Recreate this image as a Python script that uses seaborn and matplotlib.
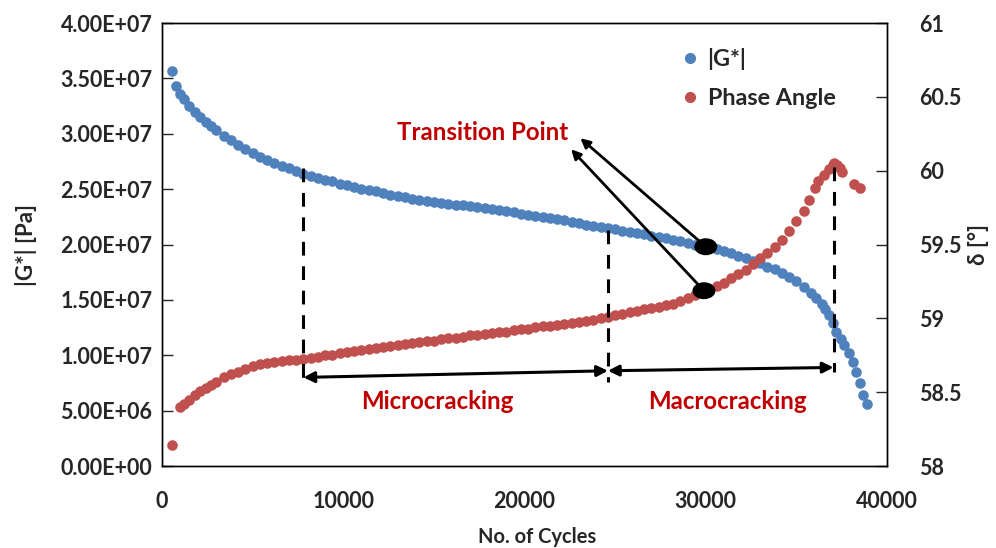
import matplotlib
matplotlib.use("Agg")
import matplotlib.pyplot as plt
import matplotlib.ticker as ticker
from matplotlib.lines import Line2D
from matplotlib.patches import Ellipse
import seaborn as sns

sns.set_style("white", {"xtick.direction": "in", "ytick.direction": "in",
                        "axes.edgecolor": "black"})
plt.rcParams['font.family'] = ['Lato', 'DejaVu Sans']
plt.rcParams['font.weight'] = 'bold'
plt.rcParams['font.size'] = 15

BLUE = '#4F81BD'
RED = '#C0504D'
TEXT_RED = '#C00000'

# |G*| readings (cycles, Pa / 1e6)
g_cycles = [570, 790, 1000, 1200, 1500, 1800, 2100, 2400, 2700, 3000, 3400, 3800,
            4200, 4600, 5000, 5400, 5800, 6200, 6600, 7000, 7400, 7800, 8200, 8600,
            9000, 9400, 9800, 10200, 10600, 11000, 11400, 11800, 12200, 12600, 13000,
            13400, 13800, 14200, 14600, 15000, 15400, 15800, 16200, 16600, 17000,
            17400, 17800, 18200, 18600, 19000, 19400, 19800, 20200, 20600, 21000,
            21400, 21800, 22200, 22600, 23000, 23400, 23800, 24200, 24600, 25000,
            25400, 25800, 26200, 26600, 27000, 27400, 27800, 28200, 28600, 29000,
            29400, 29800, 30200, 30600, 31000, 31400, 31800, 32200, 32600, 33000,
            33400, 33800, 34200, 34600, 35000, 35400, 35800, 36100, 36400, 36600,
            36800, 37000, 37200, 37450, 37650, 37900, 38100, 38300, 38500, 38700, 38900]
g_modulus = [35.7, 34.3, 33.6, 33.1, 32.5, 32.0, 31.5, 31.1, 30.7, 30.3, 29.8, 29.4,
             29.0, 28.6, 28.25, 27.9, 27.6, 27.35, 27.1, 26.9, 26.6, 26.4, 26.2, 26.0,
             25.85, 25.7, 25.5, 25.35, 25.2, 25.05, 24.9, 24.8, 24.65, 24.5, 24.35,
             24.25, 24.15, 24.05, 23.95, 23.85, 23.75, 23.7, 23.6, 23.55, 23.45,
             23.4, 23.3, 23.2, 23.1, 23.0, 22.9, 22.8, 22.7, 22.6, 22.5,
             22.4, 22.3, 22.2, 22.05, 21.95, 21.8, 21.7, 21.6, 21.5, 21.4,
             21.25, 21.15, 21.05, 20.95, 20.8, 20.7, 20.55, 20.45, 20.3, 20.15,
             20.0, 19.9, 19.75, 19.6, 19.4, 19.2, 19.0, 18.8, 18.55, 18.3,
             18.0, 17.75, 17.45, 17.1, 16.7, 16.2, 15.65, 15.2, 14.65, 14.2,
             13.6, 12.9, 12.1, 11.5, 10.9, 10.2, 9.4, 8.5, 7.5, 6.4, 5.6]

# phase angle readings (cycles, degrees)
pa_cycles = [570, 980, 1200, 1500, 1800, 2100, 2400, 2700, 3000, 3400, 3800, 4200,
             4600, 5000, 5400, 5800, 6200, 6600, 7000, 7400, 7800, 8200, 8600, 9000,
             9400, 9800, 10200, 10600, 11000, 11400, 11800, 12200, 12600, 13000,
             13400, 13800, 14200, 14600, 15000, 15400, 15800, 16200, 16600, 17000,
             17400, 17800, 18200, 18600, 19000, 19400, 19800, 20200, 20600, 21000,
             21400, 21800, 22200, 22600, 23000, 23400, 23800, 24200, 24600, 25000,
             25400, 25800, 26200, 26600, 27000, 27400, 27800, 28200, 28600, 29000,
             29400, 29800, 30200, 30600, 31000, 31400, 31800, 32200, 32600, 33000,
             33400, 33800, 34200, 34600, 35000, 35400, 35700, 36000, 36200, 36500,
             36800, 37000, 37100, 37250, 37400, 37500, 38200, 38500]
pa_angle = [58.14, 58.40, 58.42, 58.45, 58.48, 58.51, 58.53, 58.55, 58.57, 58.60, 58.62, 58.64,
            58.66, 58.68, 58.69, 58.70, 58.705, 58.71, 58.715, 58.72, 58.725, 58.73, 58.74, 58.75,
            58.755, 58.765, 58.77, 58.78, 58.785, 58.79, 58.80, 58.805, 58.81, 58.82,
            58.825, 58.83, 58.84, 58.845, 58.85, 58.86, 58.865, 58.87, 58.875, 58.885,
            58.89, 58.895, 58.90, 58.905, 58.91, 58.92, 58.925, 58.93, 58.94, 58.945,
            58.95, 58.955, 58.965, 58.97, 58.975, 58.985, 58.99, 59.0, 59.01, 59.02,
            59.03, 59.04, 59.05, 59.06, 59.07, 59.08, 59.09, 59.10, 59.12, 59.14,
            59.16, 59.18, 59.20, 59.22, 59.24, 59.27, 59.30, 59.33, 59.37, 59.41,
            59.44, 59.48, 59.53, 59.59, 59.66, 59.73, 59.80, 59.88, 59.93, 59.97,
            60.01, 60.04, 60.05, 60.04, 60.02, 59.99, 59.91, 59.88]

x_ticks = [0, 10000, 20000, 30000, 40000]
g_ticks = [0, 5e6, 1e7, 1.5e7, 2e7, 2.5e7, 3e7, 3.5e7, 4e7]
pa_ticks = [58, 58.5, 59, 59.5, 60, 60.5, 61]

# annotations (left-axis data units)
split_cycles = [7800, 24600, 37050]
split_top = [26.9e6, 21.3e6, 27.0e6]
split_bottom = [7.9e6, 7.6e6, 8.5e6]
arrow_y = [8.0e6, 8.6e6, 8.9e6]
region_labels = ['Microcracking', 'Macrocracking']
region_label_x = [15200, 31200]
region_label_y = 5.87e6
transition_x = [30000, 29900]
transition_y = [19.8e6, 15.83e6]
transition_head_x = [23080, 22570]
transition_head_y = [29.6e6, 28.6e6]

fig = plt.figure(figsize=(9.96, 5.48), dpi=100)
ax = fig.add_axes([0.1627, 0.1496, 0.7279, 0.8084])
ax2 = ax.twinx()

sns.scatterplot(x=g_cycles, y=[v * 1e6 for v in g_modulus], ax=ax, color=BLUE,
                s=58, linewidth=0, legend=False)
sns.scatterplot(x=pa_cycles, y=pa_angle, ax=ax2, color=RED,
                s=58, linewidth=0, legend=False)

ax.set_xlim(0, 40000)
ax.set_ylim(0, 4e7)
ax2.set_ylim(58, 61)
ax.set_xticks(x_ticks)
ax.set_yticks(g_ticks)
ax2.set_yticks(pa_ticks)
ax.xaxis.set_major_formatter(ticker.FuncFormatter(lambda v, p: f"{v:.0f}"))
ax.yaxis.set_major_formatter(ticker.FuncFormatter(lambda v, p: f"{v:.2E}"))
ax2.yaxis.set_major_formatter(ticker.FuncFormatter(lambda v, p: f"{v:g}"))
ax.tick_params(axis='x', direction='in', length=8, width=1, pad=18, labelsize=15.5)
ax.tick_params(axis='y', direction='in', length=8, width=1, pad=7, labelsize=15.5,
               left=True, right=False)
ax2.tick_params(axis='y', direction='in', length=8, width=1, pad=23, labelsize=15.5,
                right=True, left=False)
for a in (ax, ax2):
    for sp in a.spines.values():
        sp.set_color('black')
        sp.set_linewidth(1)

ax.set_xlabel('No. of Cycles', fontsize=14.5, fontweight='bold')
ax.xaxis.set_label_coords(0.517, -0.138)
ax.set_ylabel('|G*| [Pa]', fontsize=16, fontweight='bold')
ax.yaxis.set_label_coords(-0.172, 0.5)
ax2.set_ylabel('δ [°]', fontsize=16, fontweight='bold', rotation=90)
ax2.yaxis.set_label_coords(1.112, 0.5)

# dashed split lines
for x0, y0, y1 in zip(split_cycles, split_top, split_bottom):
    ax2.plot([x0, x0], [y0, y1], transform=ax.transData, color='black',
             lw=2.2, ls=(0, (4.5, 3.5)))

# region arrows
for i in range(2):
    ax2.annotate('', xy=(split_cycles[i + 1], arrow_y[i + 1]),
                 xytext=(split_cycles[i], arrow_y[i]),
                 xycoords=ax.transData, textcoords=ax.transData,
                 arrowprops=dict(arrowstyle='<|-|>', color='black', lw=2.2,
                                 mutation_scale=16, shrinkA=0, shrinkB=0))
    ax2.text(region_label_x[i], region_label_y, region_labels[i], transform=ax.transData,
             color=TEXT_RED, ha='center', va='center', fontsize=17.3, fontweight='bold')

# transition points
for x0, y0, hx, hy in zip(transition_x, transition_y, transition_head_x, transition_head_y):
    ax2.annotate('', xy=(hx, hy), xytext=(x0, y0),
                 xycoords=ax.transData, textcoords=ax.transData,
                 arrowprops=dict(arrowstyle='-|>', color='black', lw=2,
                                 mutation_scale=14, shrinkA=0, shrinkB=0))
    ax2.add_patch(Ellipse((x0, y0), 1270, 1.53e6, transform=ax.transData,
                          facecolor='black', edgecolor='none', zorder=5))
ax2.text(17690, 30.07e6, 'Transition Point', transform=ax.transData,
         color=TEXT_RED, ha='center', va='center', fontsize=17.3, fontweight='bold')

handles = [Line2D([], [], marker='o', ls='', color=BLUE, ms=7),
           Line2D([], [], marker='o', ls='', color=RED, ms=7)]
ax2.legend(handles, ['|G*|', 'Phase Angle'], loc='upper left',
           bbox_to_anchor=(0.68, 0.99), frameon=False, fontsize=16.8,
           labelspacing=0.75, handletextpad=0.15, handlelength=1.2)

fig.savefig('out.png', dpi=100)
